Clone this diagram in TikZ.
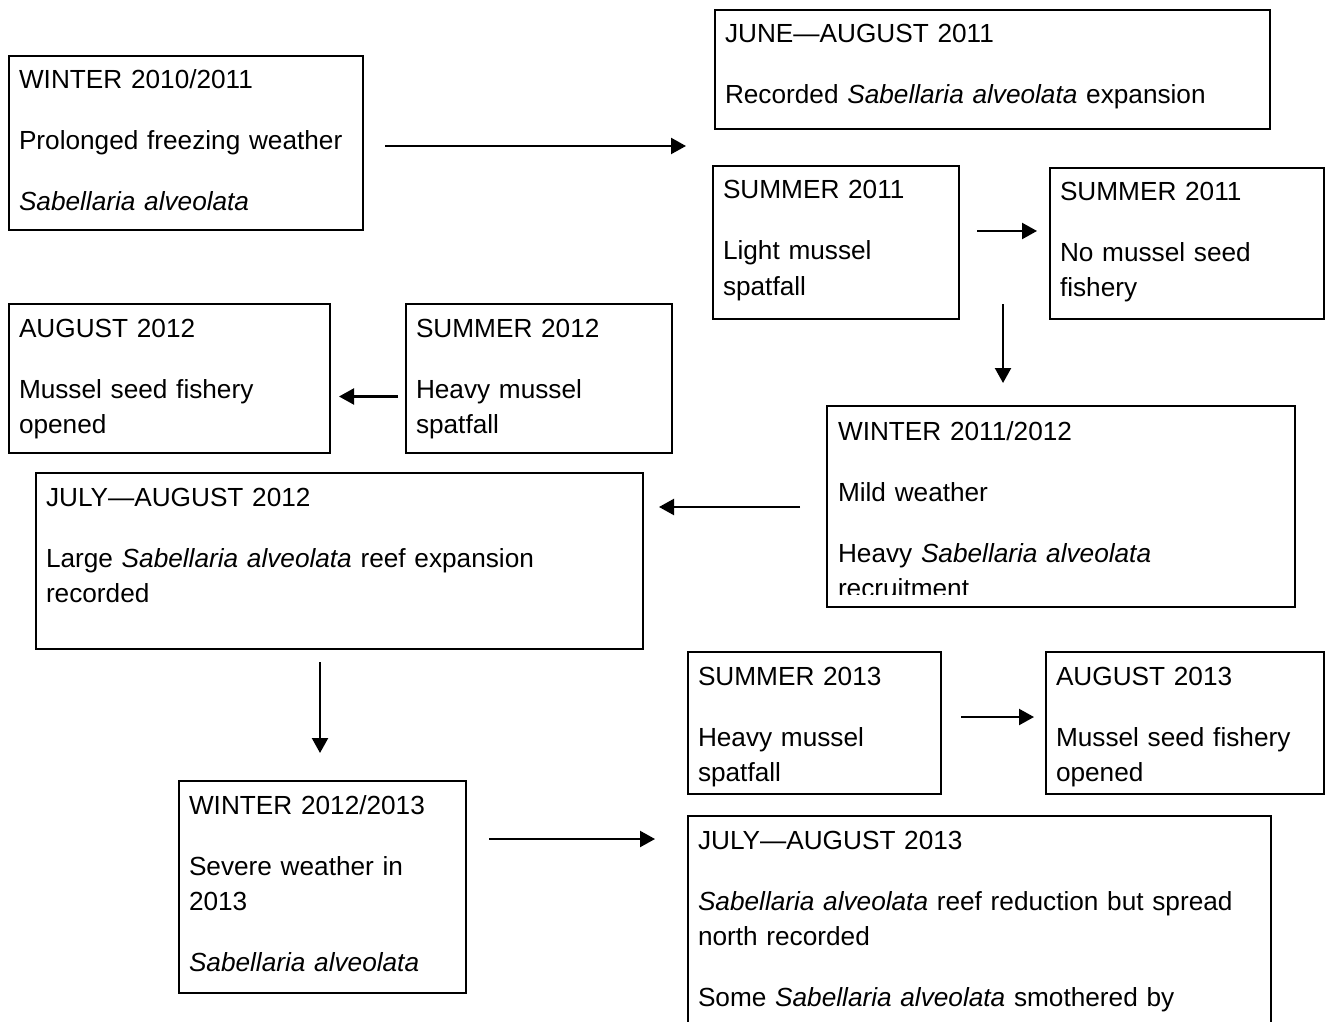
\documentclass[tikz,border=0pt]{standalone}
\usepackage{fontspec}
\setmainfont{Liberation Sans}
\usepackage{tikz}
\usetikzlibrary{arrows.meta,calc}
\tikzset{
  event/.style={draw=black, line width=1pt, anchor=north west, align=left,
    inner xsep=5pt, inner ysep=0pt, text height=16.5pt},
  arr/.style={-{Triangle[length=7.5pt,width=8pt]}, line width=1.1pt, black},
}
\newcommand{\sab}{\textit{Sabellaria alveolata}}
\newcommand{\gap}{\\[13pt]}

\begin{document}
\begin{tikzpicture}[x=0.5pt, y=-0.5pt, font=\fontsize{13.1}{17.5}\selectfont]
    \useasboundingbox (0,0) rectangle (1325,1021);
    \node[event, text width=167pt, text depth=70.5pt] (w1011) at (8,55) {WINTER 2010/2011\gap Prolonged freezing weather\gap \sab};
    \node[event, text width=267.5pt, text depth=43pt] (j11) at (714,9) {JUNE---AUGUST 2011\gap Recorded \sab{} expansion};
    \node[event, text width=113pt, text depth=60pt] (s11a) at (712,165) {SUMMER 2011\gap Light mussel\\spatfall};
    \node[event, text width=127pt, text depth=59pt] (s11b) at (1049,167) {SUMMER 2011\gap No mussel seed\\fishery};
    \node[event, text width=150.5pt, text depth=58pt] (a12) at (8,303) {AUGUST 2012\gap Mussel seed fishery\\opened};
    \node[event, text width=123pt, text depth=58pt] (s12) at (405,303) {SUMMER 2012\gap Heavy mussel\\spatfall};
    \begin{scope}
      \clip (820,400) rectangle (1300,594);
      \node[event, draw=none, text width=223pt, text depth=83pt] (w1112) at (827,406) {WINTER 2011/2012\gap Mild weather\gap Heavy \sab\\recruitment};
    \end{scope}
    \draw[line width=1pt] (w1112.north west) rectangle (w1112.south east);
    \node[event, text width=293.5pt, text depth=71.5pt] (ja12) at (35,472) {JULY---AUGUST 2012\gap Large \sab{} reef expansion\\recorded};
    \node[event, text width=116.5pt, text depth=54.5pt] (s13) at (687,651) {SUMMER 2013\gap Heavy mussel\\spatfall};
    \node[event, text width=129pt, text depth=54.5pt] (a13) at (1045,651) {AUGUST 2013\gap Mussel seed fishery\\opened};
    \node[event, text width=133.5pt, text depth=89.5pt] (w1213) at (178,780) {WINTER 2012/2013\gap Severe weather in\\2013\gap \sab};
    \node[event, text width=281.5pt, text depth=121pt] (ja13) at (687,815) {JULY---AUGUST 2013\gap \sab{} reef reduction but spread\\north recorded\gap Some \sab{} smothered by};
    \draw[arr] ($(w1011.east)+(21,3)$) -- ($(w1011.east -| j11.west)+(-28,3)$);
    \draw[arr] ($(s11a.east)+(17,-11.5)$) -- ($(s11a.east -| s11b.west)+(-12,-11.5)$);
    \draw[arr] ($(s11a.south east)+(43,-16)$) -- ($(s11a.south east |- w1112.north)+(43,-23)$);
    \draw[arr] ($(w1112.west)+(-27,0.5)$) -- ($(w1112.west -| ja12.east)+(15,0.5)$);
    \draw[arr] ($(s12.west)+(-7,18)$) -- ($(s12.west -| a12.east)+(8,18)$);
    \draw[arr] ($(ja12.south)+(-19.5,12)$) -- ($(ja12.south |- w1213.north)+(-19.5,-27)$);
    \draw[arr] ($(s13.east)+(19,-6)$) -- ($(s13.east -| a13.west)+(-11,-6)$);
    \draw[arr] ($(w1213.north east)+(22,59)$) -- ($(w1213.north east -| ja13.west)+(-32,59)$);
  \end{tikzpicture}
\end{document}
